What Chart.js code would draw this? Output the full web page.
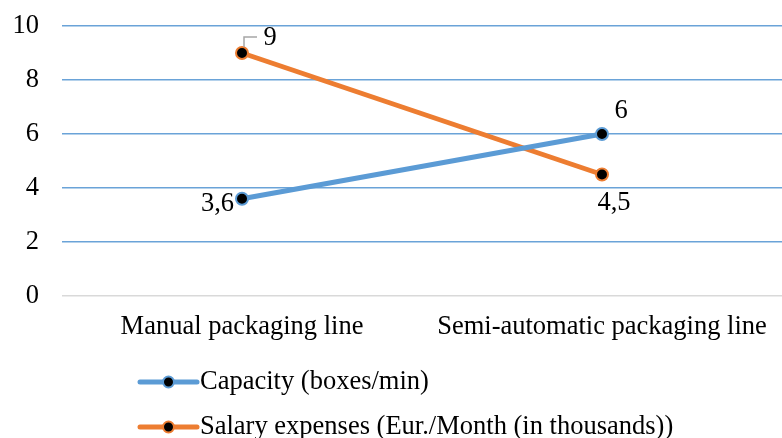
<!DOCTYPE html>
<html>
<head>
<meta charset="utf-8">
<script src="https://cdn.jsdelivr.net/npm/chart.js@4/dist/chart.umd.min.js"></script>
<style>
  html, body { margin: 0; padding: 0; background: #ffffff; }
  #wrap { width: 782px; height: 438px; position: relative; }
</style>
</head>
<body>
<div id="wrap"><canvas id="c" width="782" height="438"></canvas></div>
<script>
// Packaging line comparison
const categories = ['Manual packaging line', 'Semi-automatic packaging line'];
const capacity = [3.6, 6];
const salary = [9, 4.5];
const seriesNames = ['Capacity (boxes/min)', 'Salary expenses (Eur./Month (in thousands))'];
const yTicks = [0, 2, 4, 6, 8, 10];

const BLUE = '#5B9BD5';
const ORANGE = '#ED7D31';
const FONT = '"Liberation Serif", "Times New Roman", serif';
const FS = 26.5;

// Value labels with decimal comma, placed beside each point
const labelPlacement = [
  [ { dx: -8, dy: 5, align: 'right' }, { dx: 19, dy: -23, align: 'center' } ],
  [ { dx: 28, dy: -15, align: 'center', leader: true }, { dx: 12, dy: 29, align: 'center' } ]
];

const valueLabels = {
  id: 'valueLabels',
  afterDatasetsDraw(chart) {
    const ctx = chart.ctx;
    ctx.save();
    ctx.font = FS + 'px ' + FONT;
    ctx.fillStyle = '#000';
    ctx.textBaseline = 'middle';
    chart.data.datasets.forEach((ds, di) => {
      const meta = chart.getDatasetMeta(di);
      meta.data.forEach((pt, i) => {
        const p = labelPlacement[di][i];
        const txt = String(ds.data[i]).replace('.', ',');
        const x = pt.x + p.dx, y = pt.y + p.dy;
        if (p.leader) {
          ctx.strokeStyle = '#a6a6a6';
          ctx.lineWidth = 1.5;
          ctx.beginPath();
          ctx.moveTo(pt.x + 2, pt.y - 6);
          ctx.lineTo(pt.x + 2, y - 1);
          ctx.lineTo(x - 13, y - 1);
          ctx.stroke();
        }
        ctx.textAlign = p.align;
        ctx.fillText(txt, x, y);
      });
    });
    ctx.restore();
  }
};

// Stacked legend below the axis labels
const stackedLegend = {
  id: 'stackedLegend',
  afterDraw(chart) {
    const ctx = chart.ctx;
    ctx.save();
    const x0 = 140, x1 = 197, rows = [382, 427];
    chart.data.datasets.forEach((ds, di) => {
      const y = rows[di];
      ctx.strokeStyle = ds.borderColor;
      ctx.lineWidth = 5;
      ctx.lineCap = 'round';
      ctx.beginPath();
      ctx.moveTo(x0, y);
      ctx.lineTo(x1, y);
      ctx.stroke();
      ctx.beginPath();
      ctx.arc((x0 + x1) / 2, y, 5.5, 0, Math.PI * 2);
      ctx.fillStyle = '#000';
      ctx.fill();
      ctx.lineWidth = 2;
      ctx.strokeStyle = ds.pointBorderColor;
      ctx.stroke();
      ctx.fillStyle = '#000';
      ctx.font = FS + 'px ' + FONT;
      ctx.textAlign = 'left';
      ctx.textBaseline = 'middle';
      ctx.fillText(ds.label, x1 + 3, y);
    });
    ctx.restore();
  }
};

new Chart(document.getElementById('c'), {
  type: 'line',
  data: {
    labels: categories,
    datasets: [
      {
        label: seriesNames[0], data: capacity,
        borderColor: BLUE, borderWidth: 5,
        pointBackgroundColor: '#000', pointBorderColor: BLUE,
        pointBorderWidth: 2, pointRadius: 6, tension: 0
      },
      {
        label: seriesNames[1], data: salary,
        borderColor: ORANGE, borderWidth: 5,
        pointBackgroundColor: '#000', pointBorderColor: ORANGE,
        pointBorderWidth: 2, pointRadius: 6, tension: 0
      }
    ]
  },
  options: {
    responsive: false,
    animation: false,
    layout: { autoPadding: false, padding: { top: 26, right: 0, bottom: 0, left: 0 } },
    plugins: { legend: { display: false }, tooltip: { enabled: false } },
    scales: {
      x: {
        offset: true,
        grid: { display: false, drawTicks: false },
        border: { display: false },
        ticks: { color: '#000', font: { family: FONT, size: FS }, padding: 15, maxRotation: 0 },
        afterFit(scale) {
          scale.height = 142;
          scale.paddingLeft = 0; scale.paddingRight = 0;
        }
      },
      y: {
        min: 0, max: 10,
        afterBuildTicks(scale) { scale.ticks = yTicks.map(v => ({ value: v })); },
        grid: {
          drawTicks: false,
          lineWidth: 1.5,
          color: (c) => c.tick && c.tick.value === 0 ? '#d9d9d9' : '#6aa3d8'
        },
        border: { display: false },
        ticks: { color: '#000', font: { family: FONT, size: FS }, padding: 23 },
        afterFit(scale) {
          scale.width = 62;
          scale.paddingTop = 0; scale.paddingBottom = 0;
        }
      }
    }
  },
  plugins: [valueLabels, stackedLegend]
});
</script>
</body>
</html>
